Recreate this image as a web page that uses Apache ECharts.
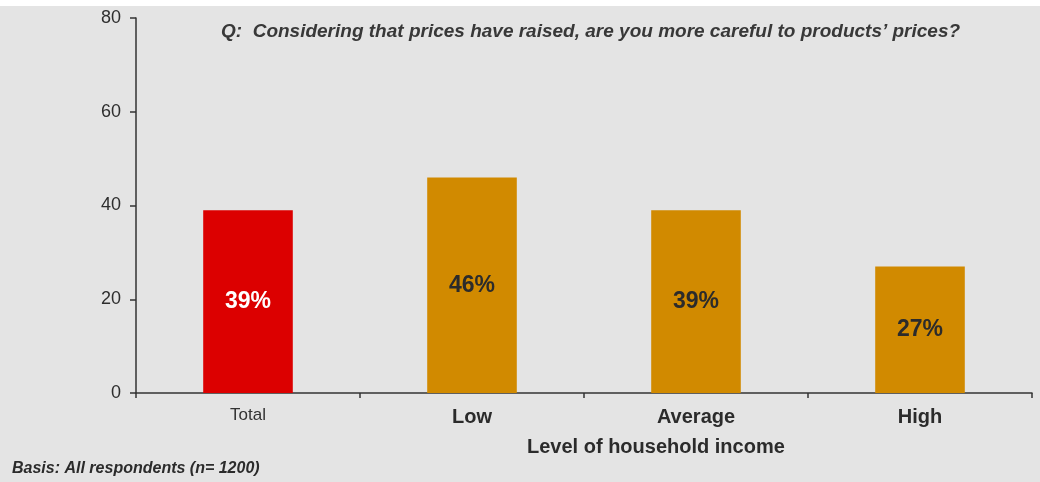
<!DOCTYPE html>
<html>
<head>
<meta charset="utf-8">
<script src="https://cdn.jsdelivr.net/npm/echarts@6/dist/echarts.min.js"></script>
<style>
  html, body { margin: 0; padding: 0; background: #ffffff; }
  #chart { width: 1040px; height: 482px; }
</style>
</head>
<body>
<div id="chart"></div>
<script>
// Survey: share of respondents more careful about prices, by household income
const categories = ['Total', 'Low', 'Average', 'High'];
const shares = [39, 46, 39, 27];
const yTicks = [0, 20, 40, 60, 80];

const questionText = 'Q:  Considering that prices have raised, are you more careful to products\u2019 prices?';
const axisTitle = 'Level of household income';
const basisText = 'Basis: All respondents (n= 1200)';

// Styling
const BAR_TOTAL = '#dc0000';
const BAR_GROUP = '#d18a00';
const INK = '#2b2b2b';
const FONT = '"Liberation Sans", Arial, sans-serif';

const chart = echarts.init(document.getElementById('chart'), null, { renderer: 'canvas' });

chart.setOption({
  backgroundColor: '#e4e4e4',
  animation: false,
  textStyle: { fontFamily: FONT },
  title: {
    text: questionText,
    left: 216,
    top: 17,
    textStyle: { fontFamily: FONT, fontSize: 19, fontStyle: 'italic', fontWeight: 'bold', color: '#383838' }
  },
  graphic: [
    { type: 'rect', left: 0, top: 0, shape: { width: 1040, height: 6 }, style: { fill: '#ffffff' }, silent: true },
    { type: 'text', left: 527, top: 437, style: { text: axisTitle, font: 'bold 20px ' + FONT, fill: INK } },
    { type: 'text', left: 12, top: 461, style: { text: basisText, font: 'italic bold 16px ' + FONT, fill: INK } }
  ],
  grid: { left: 136, right: 8, top: 18, bottom: 89 },
  xAxis: {
    type: 'category',
    data: categories,
    axisLine: { lineStyle: { color: '#333333', width: 1.5 } },
    axisTick: { show: true, length: 5, lineStyle: { color: '#333333', width: 1.5 } },
    axisLabel: {
      margin: 14,
      fontSize: 20,
      fontWeight: 'bold',
      color: INK,
      formatter: function (v) { return v === 'Total' ? '{t|' + v + '}' : v; },
      rich: { t: { fontSize: 17, fontWeight: 'normal', color: '#333333', fontFamily: FONT } }
    },
    splitLine: { show: false }
  },
  yAxis: {
    type: 'value',
    min: yTicks[0],
    max: yTicks[yTicks.length - 1],
    interval: yTicks[1] - yTicks[0],
    axisLine: { show: true, lineStyle: { color: '#333333', width: 1.5 } },
    axisTick: { show: true, length: 6, lineStyle: { color: '#333333', width: 1.5 } },
    axisLabel: { margin: 15, fontSize: 18, color: '#2e2e2e' },
    splitLine: { show: false }
  },
  series: [{
    type: 'bar',
    barWidth: '40%',
    data: shares.map(function (v, i) {
      const isTotal = i === 0;
      return {
        value: v,
        itemStyle: { color: isTotal ? BAR_TOTAL : BAR_GROUP },
        label: { color: isTotal ? '#ffffff' : INK }
      };
    }),
    label: {
      show: true,
      position: 'inside',
      fontSize: 23,
      fontWeight: 'bold',
      formatter: '{c}%'
    }
  }]
});
</script>
</body>
</html>
